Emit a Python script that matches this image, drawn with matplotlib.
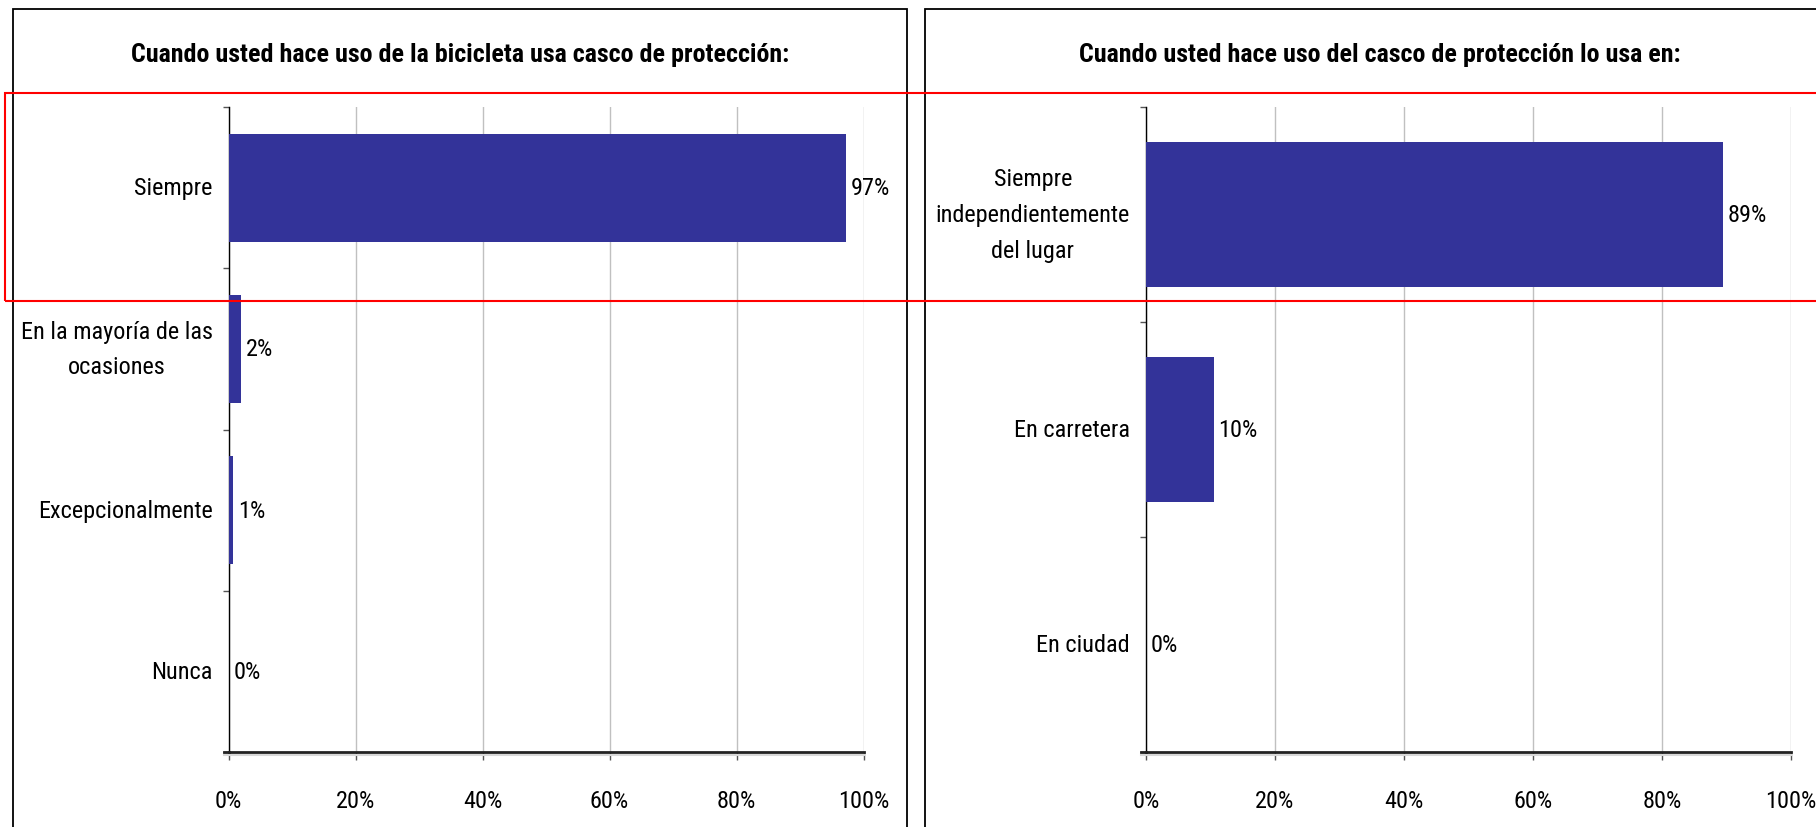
import os
import matplotlib
matplotlib.use('Agg')
import matplotlib.pyplot as plt
from matplotlib import font_manager as fm
from matplotlib.patches import Rectangle
from matplotlib.transforms import offset_copy
import numpy as np

W, H = 1816, 828

left_title = 'Cuando usted hace uso de la bicicleta usa casco de protección:'
left_cats = ['Siempre', 'En la mayoría de las\nocasiones', 'Excepcionalmente', 'Nunca']
left_vals = [97.3, 2.0, 0.7, 0.0]
left_labels = ['97%', '2%', '1%', '0%']

right_title = 'Cuando usted hace uso del casco de protección lo usa en:'
right_cats = ['Siempre\nindependientemente\ndel lugar', 'En carretera', 'En ciudad']
right_vals = [89.4, 10.5, 0.0]
right_labels = ['89%', '10%', '0%']

xticks = [0, 20, 40, 60, 80, 100]
xtick_labels = ['0%', '20%', '40%', '60%', '80%', '100%']

BAR = '#333399'

# look for a narrow face, the reference text is a squeezed Tahoma
SKIP = ['italic', 'oblique', 'semibold', 'extrabold', 'light', 'medium', 'thin',
        'black', 'semicondensed', 'extracondensed', 'ultracondensed']
KEYS = ['robotocondensed', 'liberationsansnarrow', 'notosanscondensed',
        'opensanscondensed', 'dejavusanscondensed']


def find_font(bold):
    files = sorted({f.fname for f in fm.fontManager.ttflist})
    for key in KEYS:
        for fn in files:
            base = os.path.basename(fn).lower()
            for ch in '-_ ':
                base = base.replace(ch, '')
            if key not in base or any(s in base for s in SKIP):
                continue
            if ('bold' in base) == bold:
                return fn, key
    return None, None


reg_file, reg_key = find_font(False)
bold_file, _ = find_font(True)

# size so the squeezed width of the reference is met
SIZE = {'liberationsansnarrow': 17.5, 'robotocondensed': 17.5, 'notosanscondensed': 16.5,
        'opensanscondensed': 16.5, 'dejavusanscondensed': 15.0}
FS = SIZE.get(reg_key, 15.0)
if reg_file:
    fp = fm.FontProperties(fname=reg_file, size=FS)
else:
    fp = fm.FontProperties(family='Liberation Sans', size=FS)
if bold_file:
    fpb = fm.FontProperties(fname=bold_file, size=FS * 1.07)
else:
    fpb = fm.FontProperties(family='Liberation Sans', weight='bold', size=FS)


def frac(x0, y0, x1, y1):
    # pixel box (origin top-left) -> figure fraction [l, b, w, h]
    return [x0 / W, 1 - y1 / H, (x1 - x0) / W, (y1 - y0) / H]


def bar_panel(ax, cats, vals, labels):
    n = len(cats)
    y = np.arange(n)
    ax.barh(y, vals, height=0.67, color=BAR, linewidth=0, zorder=3)
    for yi, v, lab in zip(y, vals, labels):
        ax.annotate(lab, (v, yi), xytext=(3.5, 0), textcoords='offset points',
                    va='center', ha='left', fontproperties=fp)
    ax.set_ylim(n - 0.5, -0.5)
    ax.set_xlim(0, 100)
    ax.set_yticks(y)
    ax.set_yticklabels(cats, multialignment='center', linespacing=1.7, va='center')
    ax.set_yticks(np.arange(n + 1) - 0.5, minor=True)
    ax.tick_params(axis='y', which='major', length=0, pad=11.5)
    ax.tick_params(axis='y', which='minor', length=4.5, width=1, color='#555555')
    ax.set_xticks(xticks)
    ax.set_xticklabels(xtick_labels)
    ax.tick_params(axis='x', length=5.8, width=1, pad=20.5, color='#555555')
    for t in ax.get_yticklabels() + ax.get_xticklabels():
        t.set_fontproperties(fp)
    ax.grid(axis='x', color='#c0c0c0', linewidth=1, zorder=0)
    ax.set_axisbelow(True)
    for s in ['top', 'right']:
        ax.spines[s].set_visible(False)
    ax.spines['left'].set_linewidth(1)
    ax.spines['bottom'].set_linewidth(2)
    ax.spines['bottom'].set_color('#222222')
    # axis line runs a bit left of the y axis, with a faint shadow under it
    shadow = offset_copy(ax.transAxes, fig=ax.figure, y=-2.5, units='dots')
    ax.plot([-0.007, 1], [0, 0], transform=shadow, color='#d8d8d8', linewidth=1.5,
            clip_on=False, zorder=1)
    ax.plot([-0.007, 0], [0, 0], transform=ax.transAxes, color='#222222', linewidth=2,
            clip_on=False, zorder=4)


fig = plt.figure(figsize=(W / 100, H / 100), dpi=100)

# panel frames
for x0, x1 in [(12.6, 906.7), (925, 1850)]:
    l, b, w, h = frac(x0, 10, x1, 860)
    fig.patches.append(Rectangle((l, b), w, h, transform=fig.transFigure,
                                 fill=False, edgecolor='black', linewidth=1.3))

ax1 = fig.add_axes(frac(228.5, 108, 863.5, 753))
bar_panel(ax1, left_cats, left_vals, left_labels)
ax2 = fig.add_axes(frac(1146, 108, 1791, 753))
bar_panel(ax2, right_cats, right_vals, right_labels)

fig.text(460 / W, 1 - 55 / H, left_title, ha='center', va='center', fontproperties=fpb)
fig.text(1380 / W, 1 - 55 / H, right_title, ha='center', va='center', fontproperties=fpb)

# red highlight box
l, b, w, h = frac(4.7, 94.3, 1860, 302.3)
fig.patches.append(Rectangle((l, b), w, h, transform=fig.transFigure,
                             fill=False, edgecolor='#ff0000', linewidth=1.5, zorder=10))

fig.savefig('out.png', dpi=100)
